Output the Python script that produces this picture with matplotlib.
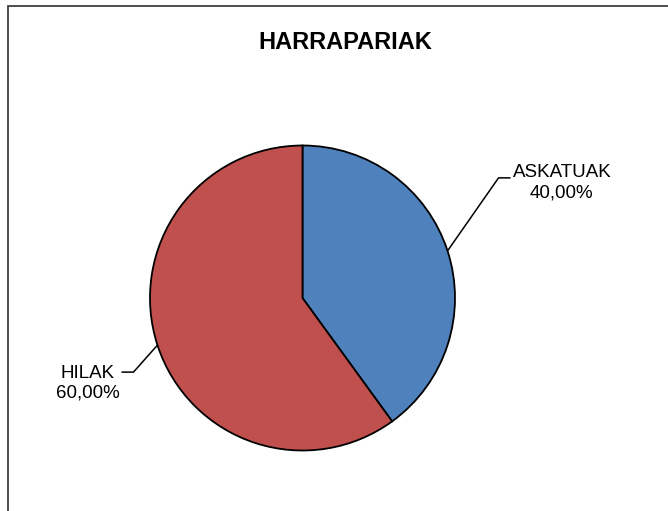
import numpy as np
import matplotlib
matplotlib.use("Agg")
import matplotlib.pyplot as plt
from matplotlib.patches import Rectangle

plt.rcParams['font.family'] = ['Liberation Sans', 'DejaVu Sans']

title = "HARRAPARIAK"
categories = ["ASKATUAK", "HILAK"]
values = [40.0, 60.0]
colors = ["#4F81BD", "#C0504D"]

W, H = 668, 511
fig = plt.figure(figsize=(W / 100, H / 100), dpi=100)
ax = fig.add_axes([0, 0, 1, 1])
ax.set_xlim(0, W)
ax.set_ylim(0, H)
ax.set_aspect('equal')
ax.axis('off')

# chart border (extends past the right/bottom edges)
ax.add_patch(Rectangle((8, -20), W + 20, H - 6 + 20, fill=False,
                       edgecolor='#303030', linewidth=1.2))

cx, cy, r = 302.5, 213, 152.5
wedges, _ = ax.pie(values, colors=colors, startangle=90, counterclock=False,
                   center=(cx, cy), radius=r, frame=True,
                   wedgeprops=dict(edgecolor='black', linewidth=1.3))
ax.set_xlim(0, W)
ax.set_ylim(0, H)
ax.axis('off')

ax.text(345, H - 42.5, title, ha='center', va='center', fontsize=17,
        fontweight='bold', color='black')

# labels with leader lines
label_cfg = [
    # (elbow dx, elbow dy, horizontal length, side)
    (51, 73, 12, 1),
    (-24, -27, -12, -1),
]
for w, cat, val, (ex, ey, hl, side) in zip(wedges, categories, values, label_cfg):
    ang = np.deg2rad((w.theta1 + w.theta2) / 2)
    px, py = cx + r * np.cos(ang), cy + r * np.sin(ang)
    elx, ely = px + ex, py + ey
    endx = elx + hl
    ax.plot([px, elx, endx], [py, ely, ely], color='black', linewidth=1.1,
            solid_capstyle='butt')
    txt = f"{cat}\n{val:.2f}%".replace('.', ',')
    if side > 0:
        ax.text(endx + 2, ely - 5, txt, ha='left', va='center', fontsize=13.5,
                multialignment='center', linespacing=1.22)
    else:
        ax.text(endx - 2, ely - 11, txt, ha='right', va='center', fontsize=13.5,
                multialignment='center', linespacing=1.22)

fig.savefig("out.png", dpi=100)
